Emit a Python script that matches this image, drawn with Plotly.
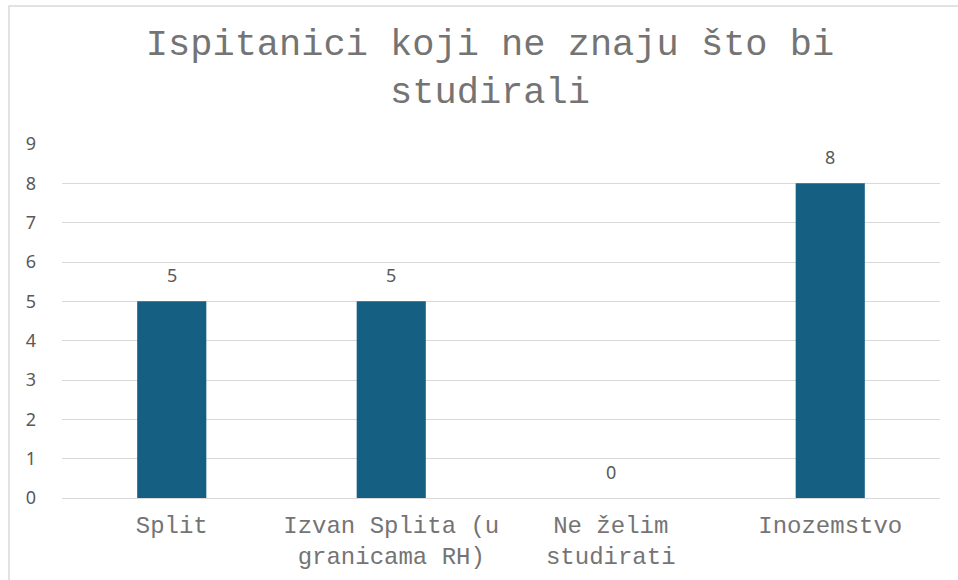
import plotly.graph_objects as go

# Chart data
categories = ["Split", "Izvan Splita (u<br>granicama RH)", "Ne želim<br>studirati", "Inozemstvo"]
values = [5, 5, 0, 8]
y_ticks = [0, 1, 2, 3, 4, 5, 6, 7, 8, 9]

colors = {
    'bar': '#156082',
    'font': '#595959',
    'mono': '#747474',
    'grid': '#D9D9D9',
    'border': '#D9D9D9',
}

fig = go.Figure()
fig.add_trace(go.Bar(
    x=categories, y=values,
    marker_color=colors['bar'],
    marker_line_width=0,
    hoverinfo="x+y",
))

# data labels above each bar
for cat, val in zip(categories, values):
    fig.add_annotation(
        x=cat, y=val, text=str(val),
        showarrow=False, yanchor="bottom", yshift=12,
        font=dict(family="Noto Sans", size=18, color=colors['font']),
    )

fig.update_layout(
    width=958, height=580,
    margin=dict(l=62, r=18, t=144, b=82),
    paper_bgcolor="white", plot_bgcolor="white",
    showlegend=False,
    bargap=0.685,
    title=dict(
        text="Ispitanici koji ne znaju što bi<br>studirali",
        x=490/958, xanchor="center", xref="container",
        y=1 - 55/580, yanchor="top", yref="container",
        font=dict(family="Liberation Mono", size=37, color=colors['mono']),
    ),
)
fig.update_xaxes(
    showgrid=False, showline=False, ticks="", automargin=False,
    tickfont=dict(family="Liberation Mono", size=24, color=colors['mono']),
    ticklabelstandoff=10, tickangle=0,
)
fig.update_yaxes(
    range=[0, 9], tickvals=y_ticks, automargin=False,
    showgrid=True, gridcolor=colors['grid'], gridwidth=1.3,
    zeroline=True, zerolinecolor=colors['grid'], zerolinewidth=1.3,
    showline=False, ticks="",
    tickfont=dict(family="Noto Sans", size=18, color=colors['font']),
    ticklabelstandoff=25,
)

# chart area border (extends past the right and bottom of the window)
fig.add_shape(
    type="rect", xref="paper", yref="paper",
    x0=(9 - 62) / 878, x1=1.1, y0=-0.5, y1=1 + (144 - 6) / 354,
    line=dict(color=colors['border'], width=1.5), layer="below",
)

fig.write_html("out.html", config={"displayModeBar": False},
               post_script="document.body.style.margin='0';")
